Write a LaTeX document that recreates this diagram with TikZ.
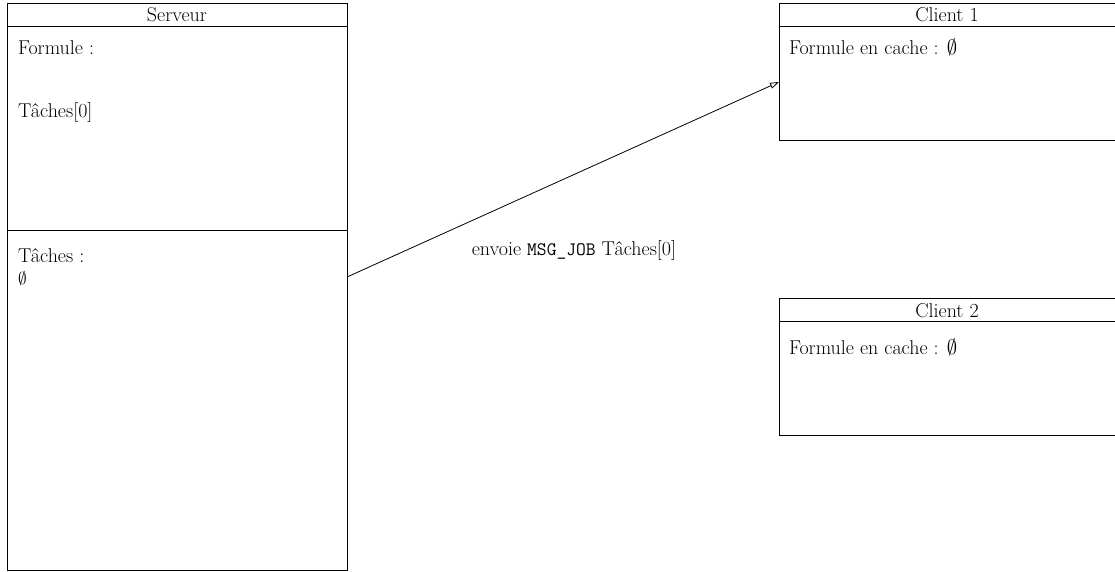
\documentclass[tikz,border=0pt]{standalone}
\usepackage{fontspec}
\usetikzlibrary{arrows.meta,calc}
\tikzset{
  box/.style={draw, line width=0.8pt, inner sep=0pt, outer sep=0pt, anchor=north west},
  lbl/.style={inner sep=0pt, outer sep=0pt, anchor=base west},
  ttl/.style={inner sep=0pt, outer sep=0pt, anchor=base},
  msg/.style={-{Triangle[open,length=9pt,width=6pt]}, line width=0.8pt}
}
\begin{document}
\begin{tikzpicture}[x=1pt,y=-1pt,font=\fontsize{20}{23}\selectfont]
\useasboundingbox (0,0) rectangle (1115,572);
% Serveur
\node[box, minimum width=340pt, minimum height=23pt] (srvt) at (7,3) {};
\node[box, minimum width=340pt, minimum height=204pt] (srvup) at (7,26) {};
\node[box, minimum width=340pt, minimum height=340pt] (srvlow) at (7,230) {};
\node[ttl] (srvtt) at (177,22) {Serveur};
\node[lbl] (f1) at (18,55) {Formule :};
\node[lbl] (t0) at (18,118) {Tâches[0]};
\node[lbl] (tl) at (18,262) {Tâches :};
\node[lbl, font=\fontsize{18}{20}\selectfont] (es) at (18,284) {$\emptyset$};
% Client 1
\node[box, minimum width=345pt, minimum height=23pt] (c1t) at (779,3) {};
\node[box, minimum width=345pt, minimum height=114pt] (c1b) at (779,26) {};
\node[ttl] (c1tt) at (947,22) {Client 1};
\node[lbl] (c1f) at (789,55) {Formule en cache : $\emptyset$};
% Client 2
\node[box, minimum width=345pt, minimum height=23pt] (c2t) at (779,298) {};
\node[box, minimum width=345pt, minimum height=114pt] (c2b) at (779,321) {};
\node[ttl] (c2tt) at (947,317) {Client 2};
\node[lbl] (c2f) at (789,354) {Formule en cache : $\emptyset$};
% message
\draw[msg] ($(srvlow.north east)+(0,47)$) -- ($(c1b.north west)+(0,56)$);
\node[ttl] (m) at (574,255) {envoie {\ttfamily\fontsize{19}{22}\selectfont MSG\_JOB} Tâches[0]};
\end{tikzpicture}
\end{document}
